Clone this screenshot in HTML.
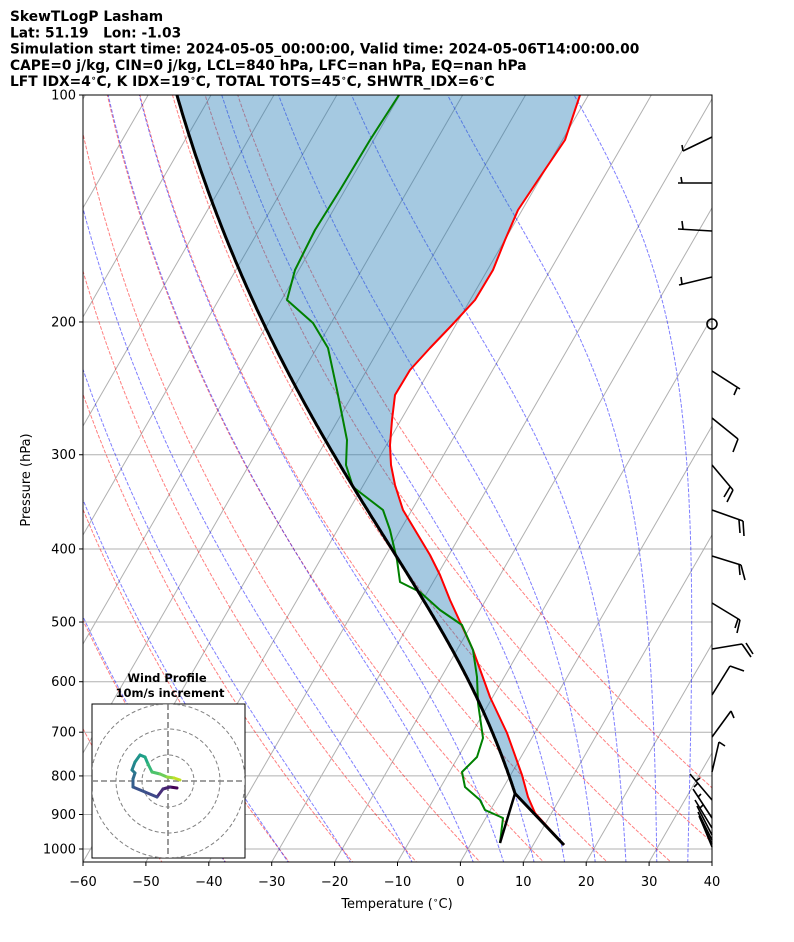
<!DOCTYPE html>
<html><head><meta charset="utf-8"><style>
body{margin:0;background:#fff;width:794px;height:937px;overflow:hidden;font-family:"Liberation Sans","DejaVu Sans",sans-serif}
</style></head><body>
<svg id="s" width="794" height="937" xmlns="http://www.w3.org/2000/svg" font-family="DejaVu Sans, Liberation Sans, sans-serif"></svg>
<script>
const L=83,R=712,T=95,B=862,SK=0.577,SC=6.29;
function Y(p){return T+754*Math.log10(p/100);}
function X(t,p){return L+(t+60)*SC+SK*(B-Y(p));}
let h='';
h+='<defs><clipPath id="c"><rect x="83" y="95" width="629" height="767"/></clipPath></defs>';
h+='<g clip-path="url(#c)">';
for(let t=-160;t<=40;t+=10){h+=`<line x1="${X(t,1100)}" y1="${Y(1100)}" x2="${X(t,90)}" y2="${Y(90)}" stroke="#b0b0b0" stroke-width="1"/>`;}
[100,200,300,400,500,600,700,800,900,1000].forEach(p=>{h+=`<line x1="83" y1="${Y(p)}" x2="712" y2="${Y(p)}" stroke="#b0b0b0" stroke-width="1"/>`;});
for(let th=-50;th<=50;th+=10){let pts=[];for(let p=1060;p>=95;p-=5){let t=(th+273.15)*Math.pow(p/1000,0.2857)-273.15;pts.push(X(t,p).toFixed(1)+','+Y(p).toFixed(1));}
h+=`<polyline points="${pts.join(' ')}" fill="none" stroke="#ff0000" stroke-opacity="0.5" stroke-width="1" stroke-dasharray="3.7,1.6"/>`;}
function dTdp(p,Tk){let es=6.112*Math.exp(17.67*(Tk-273.15)/(Tk-29.65));let rs=0.622*es/(p-es);
return (287.04*Tk+2.501e6*rs)/(1005.7+2.501e6*2.501e6*rs*0.622/(287.04*Tk*Tk))/p;}
function moist(p0,t0,pend){let pts=[[p0,t0]];let Tk=t0+273.15,p=p0;let dp=pend<p0?-2:2;
while((dp<0&&p>pend)||(dp>0&&p<pend)){let k1=dTdp(p,Tk),k2=dTdp(p+dp/2,Tk+k1*dp/2),k3=dTdp(p+dp/2,Tk+k2*dp/2),k4=dTdp(p+dp,Tk+k3*dp);Tk+=dp*(k1+2*k2+2*k3+k4)/6;p+=dp;pts.push([p,Tk-273.15]);}return pts;}
let mts=[-40,-30,-20,-10,0,5,10,15,20,25,30,35];
mts.forEach(t0=>{let up=moist(1000,t0,95),dn=moist(1000,t0,1060);let all=dn.reverse().concat(up);
h+=`<polyline points="${all.map(a=>X(a[1],a[0]).toFixed(1)+','+Y(a[0]).toFixed(1)).join(' ')}" fill="none" stroke="#0000ff" stroke-opacity="0.5" stroke-width="1" stroke-dasharray="3.7,1.6"/>`;});
let lclp=844,lclT=2.4;
let par=[[564,845],[X(lclT,lclp),Y(lclp)]];
moist(lclp,lclT,100).forEach(a=>par.push([X(a[1],a[0]),Y(a[0])]));
const red=[[564,845],[535,813],[528,797],[522,775],[507,733],[490,697],[473,650],[450,600],[440,575],[430,555],[415,530],[403,510],[395,485],[391,465],[390,445],[392,420],[395,395],[410,370],[430,348],[452,325],[475,300],[493,270],[505,240],[518,210],[538,180],[565,140],[580,95]];
const grn=[[500,843],[503,818],[485,810],[480,800],[465,787],[462,772],[477,757],[483,738],[478,703],[477,677],[473,650],[462,625],[440,610],[420,592],[400,582],[397,560],[390,530],[383,510],[353,487],[346,465],[347,440],[343,420],[337,390],[328,348],[313,323],[287,300],[295,270],[315,230],[340,190],[370,140],[399,95]];
let poly=par.concat(red.slice().reverse());
h+=`<polygon points="${poly.map(a=>a[0].toFixed(1)+','+a[1].toFixed(1)).join(' ')}" fill="#1f77b4" fill-opacity="0.4" stroke="none"/>`;
const pl=(a,c,w)=>`<polyline points="${a.map(q=>q[0].toFixed(1)+','+q[1].toFixed(1)).join(' ')}" fill="none" stroke="${c}" stroke-width="${w}" stroke-linejoin="round"/>`;
h+=pl(red,'#ff0000',2);h+=pl(grn,'#008000',2);
h+=pl(par,'#000',3);
h+=pl([[500,843],[X(lclT,lclp),Y(lclp)]],'#000',2.5);
h+='</g>';
h+='<rect x="83" y="95" width="629" height="767" fill="none" stroke="#000" stroke-width="1"/>';
[100,200,300,400,500,600,700,800,900,1000].forEach(p=>{let y=Y(p);h+=`<line x1="79" y1="${y}" x2="83" y2="${y}" stroke="#000"/><text x="76" y="${y+4.5}" font-size="13" text-anchor="end">${p}</text>`;});
for(let t=-60;t<=40;t+=10){let x=L+(t+60)*SC;h+=`<line x1="${x}" y1="862" x2="${x}" y2="866" stroke="#000"/><text x="${x}" y="886" font-size="13" text-anchor="middle">${t<0?'\u2212'+(-t):t}</text>`;}
const deg='<tspan font-size="9" dy="-5">\u2218</tspan><tspan dy="5">C</tspan>';
h+=`<text x="397" y="908" font-size="13" text-anchor="middle">Temperature (${deg})</text>`;
h+='<text transform="translate(30,480) rotate(-90)" font-size="13" text-anchor="middle">Pressure (hPa)</text>';
const dg='<tspan font-size="9" dy="-5">\u2218</tspan><tspan dy="5">C</tspan>';
const tl=['SkewTLogP Lasham','Lat: 51.19   Lon: -1.03','Simulation start time: 2024-05-05_00:00:00, Valid time: 2024-05-06T14:00:00.00','CAPE=0 j/kg, CIN=0 j/kg, LCL=840 hPa, LFC=nan hPa, EQ=nan hPa',`LFT IDX=4${dg}, K IDX=19${dg}, TOTAL TOTS=45${dg}, SHWTR_IDX=6${dg}`];
tl.forEach((s,i)=>{h+=`<text x="10" y="${21+i*16.3}" font-size="13.8" font-weight="bold" xml:space="preserve">${s}</text>`;});
const bb=[
[[712,137],[683,151]],[[683,151],[682,145]],
[[712,183],[678,183]],[[682,183],[681,177]],
[[712,231],[678,229]],[[683,229],[682,221]],
[[712,277],[679,285]],[[682,284],[681,277]],
[[712,371],[740,389]],[[737,388],[734,395]],
[[712,418],[738,439]],[[738,439],[733,452]],
[[712,465],[733,490]],[[733,490],[727,502]],[[730,487],[724,497]],
[[712,510],[743,521]],[[743,521],[744,536]],[[739,520],[740,533]],
[[712,556],[741,565]],[[741,565],[745,580]],[[739,564],[740,575]],
[[712,603],[740,620]],[[740,620],[737,633]],[[738,619],[735,628]],
[[712,649],[742,644]],[[742,644],[751,657]],[[746,643],[753,654]],
[[712,695],[730,666]],[[730,666],[744,671]],
[[712,737],[731,711]],[[731,711],[734,718]],
[[712,772],[719,742]],[[719,742],[725,746]],
[[712,800],[690,774]],[[698,783],[694,787]],[[696,781],[700,778]],
[[712,818],[693,789]],[[698,797],[701,794]],
[[712,828],[695,800]],[[700,808],[703,805]],
[[712,835],[697,806]],[[712,840],[698,812]],[[712,844],[699,816]],[[712,847],[700,818]]
];
bb.forEach(s=>{h+=`<line x1="${s[0][0]}" y1="${s[0][1]}" x2="${s[1][0]}" y2="${s[1][1]}" stroke="#000" stroke-width="1.6"/>`;});
h+='<circle cx="712" cy="324" r="5" fill="none" stroke="#000" stroke-width="1.6"/>';
h+='<rect x="92" y="704" width="153" height="154" fill="#fff" stroke="#000" stroke-width="1"/>';
h+='<defs><clipPath id="hc"><rect x="92" y="704" width="153" height="154"/></clipPath></defs><g clip-path="url(#hc)">';
[26,52,77].forEach(r=>{h+=`<circle cx="168" cy="781" r="${r}" fill="none" stroke="#808080" stroke-width="1" stroke-dasharray="4,2.5"/>`;});
h+='<line x1="92" y1="781" x2="245" y2="781" stroke="#808080" stroke-width="1.6" stroke-dasharray="6,3"/><line x1="168" y1="704" x2="168" y2="858" stroke="#808080" stroke-width="1.6" stroke-dasharray="6,3"/>';
const hp=[[177,788],[170,787],[163,789],[157,797],[145,792],[133,787],[133,779],[135,773],[132,770],[135,762],[140,755],[145,757],[148,764],[152,772],[160,774],[167,777],[174,778],[180,780]];
const cols=['#440154','#46206f','#482f7a','#3e4a89','#3b528b','#355e8d','#2f6c8e','#2a788e','#25838e','#21918c','#1e9c89','#22a884','#35b779','#4ec36b','#6ccd5a','#95d840','#c0df25','#fde725'];
for(let i=0;i<hp.length-1;i++){h+=`<line x1="${hp[i][0]}" y1="${hp[i][1]}" x2="${hp[i+1][0]}" y2="${hp[i+1][1]}" stroke="${cols[i]}" stroke-width="3" stroke-linecap="round"/>`;}
h+='</g>';
h+='<text x="167" y="682" font-size="11.5" font-weight="bold" text-anchor="middle">Wind Profile</text><text x="170" y="697" font-size="11.5" font-weight="bold" text-anchor="middle">10m/s increment</text>';
document.getElementById('s').innerHTML=h;
</script>
</body></html>
